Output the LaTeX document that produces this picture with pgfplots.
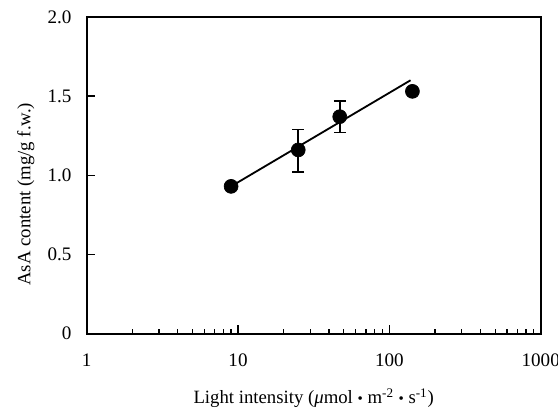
\documentclass[border=0pt]{standalone}
\usepackage{pgfplots}
\pgfplotsset{compat=1.18}
\usepackage{fontspec}
\setmainfont{Liberation Serif}
\begin{document}
\begin{tikzpicture}
\begin{axis}[
  scale only axis, width=273.6pt, height=190.8pt,
  at={(0,0)}, anchor=south west,
  xmode=log, xmin=1, xmax=1000, ymin=0, ymax=2,
  axis line style={line width=1.1pt},
  tick align=inside, xtick pos=bottom, ytick pos=left,
  xtick={1,10,100,1000}, xticklabels={1,10,100,1000},
  ytick={0,0.5,1,1.5,2}, yticklabels={0,0.5,1.0,1.5,2.0},
  major tick length=5pt, minor tick length=2.5pt,
  every tick/.style={black, line width=0.8pt},
  tick label style={font=\fontsize{11.5}{13}\selectfont},
  xticklabel style={yshift=-8.8pt},
  yticklabel style={xshift=-5.6pt},
  /pgf/number format/assume math mode=true,
  xlabel={Light intensity (\textit{μ}mol \raisebox{0.1ex}{\scalebox{0.8}{\textbullet}} m\textsuperscript{-2} \raisebox{0.1ex}{\scalebox{0.8}{\textbullet}} s\textsuperscript{-1})},
  ylabel={AsA content (mg/g f.w.)},
  label style={font=\fontsize{11.3}{13}\selectfont},
  xlabel style={at={(axis description cs:0.5,0)}, anchor=center, yshift=-39pt},
  ylabel style={at={(axis description cs:0,0.44)}, anchor=center, yshift=36.6pt},
]
\addplot[black, line width=1.1pt] coordinates {(9,0.93) (138,1.60)};
\addplot[only marks, mark=*, mark size=4.2pt, black,
  error bars/.cd, y dir=both, y explicit,
  error bar style={line width=1pt},
  error mark options={rotate=90, mark size=3.6pt, line width=1pt}]
  coordinates {
  (9,0.93) +- (0,0)
  (25,1.16) += (0,0.13) -= (0,0.14)
  (47,1.37) += (0,0.10) -= (0,0.10)
  (142,1.53) +- (0,0)
  };
\end{axis}
\pgfresetboundingbox
\path[use as bounding box] (-52.2pt,-46.2pt) rectangle (284pt,201pt);
\end{tikzpicture}
\end{document}
